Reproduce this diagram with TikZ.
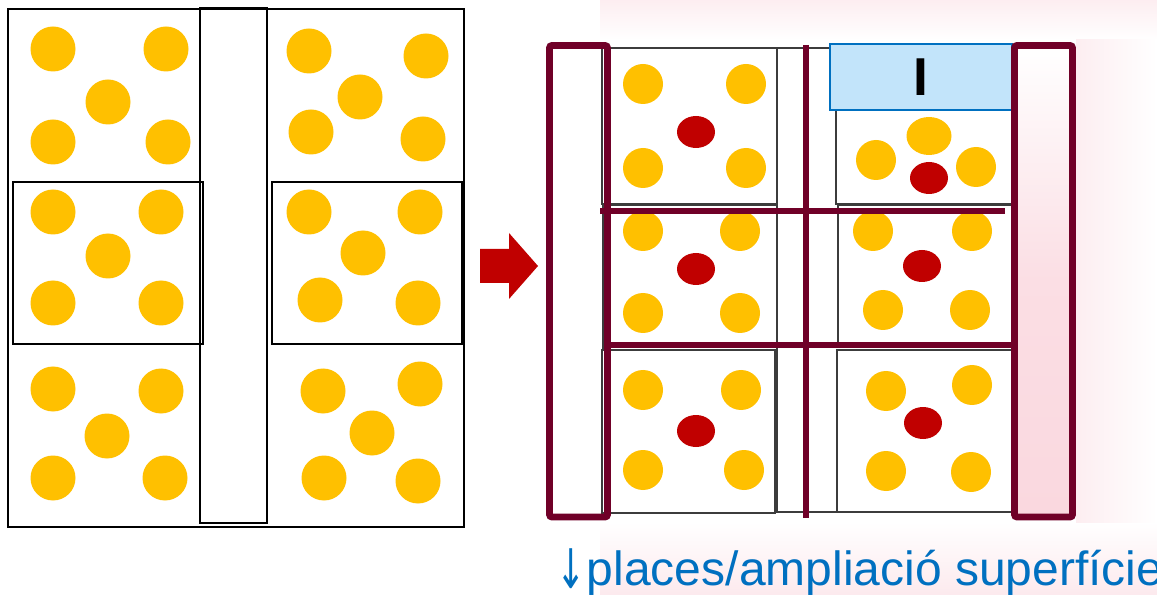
\documentclass[tikz,border=0pt]{standalone}
\usepackage{fontspec}
\setmainfont{Liberation Sans}
\newfontfamily\arrowfont{DejaVu Sans}
\definecolor{dotyellow}{RGB}{255,192,0}
\definecolor{dotred}{RGB}{192,0,0}
\definecolor{maroon}{RGB}{112,0,40}
\definecolor{txtblue}{RGB}{0,112,192}
\definecolor{boxblue}{RGB}{194,228,250}
\definecolor{wpink}{RGB}{250,216,223}
\definecolor{cellgray}{RGB}{60,60,60}
\tikzset{
  ydot/.style={fill=dotyellow},
  rdot/.style={fill=dotred},
  blk/.style={draw=black, line width=1.7pt},
  cellbox/.style={draw=cellgray, line width=1.6pt},
  mline/.style={draw=maroon, line width=4.5pt},
  mbox/.style={draw=maroon, line width=5.2pt, rounded corners=2pt},
}
\begin{document}
\begin{tikzpicture}[x=0.75pt,y=-0.75pt]
\useasboundingbox (0,0) rectangle (1157,595);
\fill[white] (0,0) rectangle (1157,595);
% faint watermark
\shade[top color=wpink!45, bottom color=white] (600,0) rectangle (1157,40);
\shade[top color=white, bottom color=wpink!55] (600,522) rectangle (1157,595);
\shade[left color=wpink!45, right color=white] (1076,40) rectangle (1157,522);
\shade[top color=white, bottom color=wpink, middle color=wpink!85] (1014.5,45.5) rectangle (1072.5,517);

% ---------- left panel ----------
\draw[blk] (8,9) rectangle (464,527);
\draw[blk] (200,8) rectangle (267,523);
\draw[blk] (13,182) rectangle (203,344);
\draw[blk] (272,182) rectangle (462,344);
\foreach \p in {(53,49),(166,49),(108,102),(53,142),(168,142),
                (309,51),(426,56),(360,97),(311,132),(423,139),
                (53,212),(161,212),(108,256),(53,303),(161,303),
                (309,212),(420,212),(363,253),(320,300),(418,303),
                (53,389),(161,391),(107,436),(53,478),(165,478),
                (323,391),(420,384),(372,433),(324,478),(418,481)}
  \fill[ydot] \p circle (22.5);

% ---------- arrow ----------
\fill[dotred] (480,249) -- (509,249) -- (509,233) -- (538,266) -- (509,299) -- (509,283) -- (480,283) -- cycle;

% ---------- right panel ----------
\draw[cellbox] (602,48) rectangle (777,204);
\draw[cellbox] (603,205) rectangle (777,350);
\draw[cellbox] (602,350) rectangle (775,513);
\draw[cellbox] (777,48) -- (830,48);
\draw[cellbox] (777,48) -- (777,512) -- (837,512);
\draw[cellbox] (836,110) -- (836,204) -- (1012,204);
\draw[cellbox] (838,345) -- (838,205) -- (1012,205);
\draw[cellbox] (837,512) -- (837,350) -- (1012,350);
\draw[cellbox] (837,512) -- (1012,512);

\node[draw=txtblue, fill=boxblue, line width=2pt, minimum width=182*0.75pt, minimum height=66*0.75pt, inner sep=0pt,
      font=\fontsize{40}{44}\selectfont\bfseries] (ibox) at (921,77) {I};

\foreach \p in {(643,84),(746,84),(643,168),(746,168),
                (643,231),(740,231),(643,313),(740,313),
                (643,390),(741,390),(643,470),(744,470),
                (876,160),(976,167),
                (873,231),(972,231),(883,310),(970,310),
                (886,391),(972,385),(886,471),(971,472)}
  \fill[ydot] \p circle (20);
\fill[ydot] (929,136) ellipse [x radius=22.5, y radius=19];
\foreach \p in {(696,132),(696,269),(696,431),(929,178),(922,266),(923,423)}
  \fill[rdot] \p ellipse [x radius=19, y radius=16];

\draw[mline] (806,45) -- (806,518);
\draw[mline] (600,211.5) -- (1005,211.5);
\draw[mline] (607,345) -- (1014,345);
\draw[mbox] (549.5,45.5) rectangle (607.5,517);
\draw[mbox] (1014.5,45.5) rectangle (1072.5,517);

\node[anchor=base west, inner sep=0pt, text=txtblue, font=\fontsize{36}{40}\selectfont] (cap) at (556,585)
  {\makebox[23pt][l]{\raisebox{-2.5pt}{\resizebox*{22pt}{30pt}{\arrowfont ↓}}}places/ampliació superfície};
\end{tikzpicture}
\end{document}
